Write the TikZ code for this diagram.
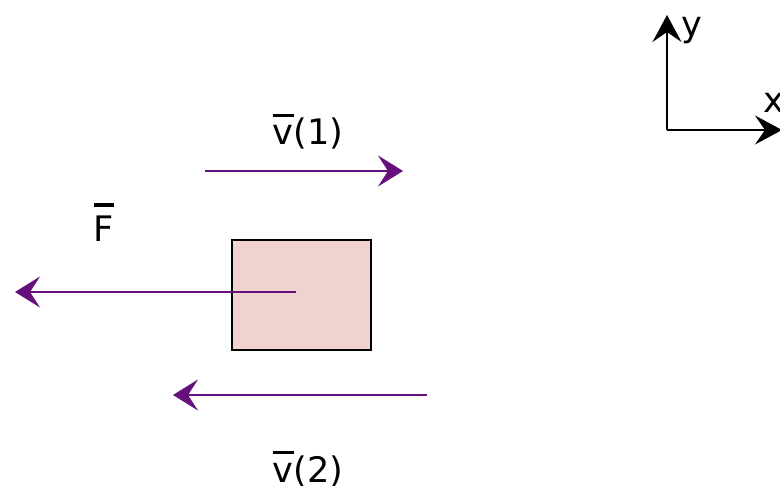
\documentclass[tikz,border=0pt]{standalone}
\usepackage{fontspec}
\setmainfont{DejaVu Sans}
\usetikzlibrary{arrows.meta}
\definecolor{forcePurple}{RGB}{102, 16, 126}
\definecolor{blockPink}{RGB}{240, 210, 206}
\newsavebox\vecbox
\newcommand\vecbar[1]{\sbox\vecbox{#1}%
  \rlap{\raisebox{\dimexpr\ht\vecbox+5pt\relax}{\rule{\wd\vecbox}{1.8pt}}}\usebox\vecbox}

\begin{document}
\begin{tikzpicture}[x=0.02cm, y=-0.02cm, every node/.style={inner sep=0pt}]
  \tikzset{
    vec/.style={draw=forcePurple, line width=1.5pt,
      -{Stealth[length=0.5cm, width=0.62cm, inset=0.2cm]}},
    axis/.style={draw=black, line width=1.1pt,
      -{Stealth[length=0.54cm, width=0.58cm, inset=0.2cm]}},
    lbl/.style={font=\fontsize{20}{24}\selectfont, anchor=base},
    block/.style={draw=black, line width=1pt, fill=blockPink,
      minimum width=2.78cm, minimum height=2.2cm}
  }

  % fixed frame of the picture
  \path[use as bounding box] (0, 0) rectangle (780, 486);

  % the body
  \node[block] (body) at (301.5, 295) {};

  % force on the body
  \coordinate (Fend) at (15, 292);
  \coordinate (Fstart) at (296, 292);
  \draw[vec] (Fstart) -- (Fend);
  \node[lbl] (Flabel) at (104, 241) {\vecbar{F}};

  % velocity before
  \coordinate (vonestart) at (205, 171);
  \coordinate (voneend) at (403, 171);
  \draw[vec] (vonestart) -- (voneend);
  \node[lbl] (vonelabel) at (308, 145) {\vecbar{v}(1)};

  % velocity after
  \coordinate (vtwostart) at (427, 395);
  \coordinate (vtwoend) at (173, 395);
  \draw[vec] (vtwostart) -- (vtwoend);
  \node[lbl] (vtwolabel) at (308, 482) {\vecbar{v}(2)};

  % axes
  \coordinate (origin) at (667, 130);
  \coordinate (yend) at (667, 15);
  \coordinate (xend) at (782, 130);
  \draw[axis] (origin) -- (yend);
  \draw[axis] (origin) -- (xend);
  \node[lbl] (ylabel) at (692, 37) {y};
  \node[lbl] (xlabel) at (774, 113) {x};

\end{tikzpicture}
\end{document}
